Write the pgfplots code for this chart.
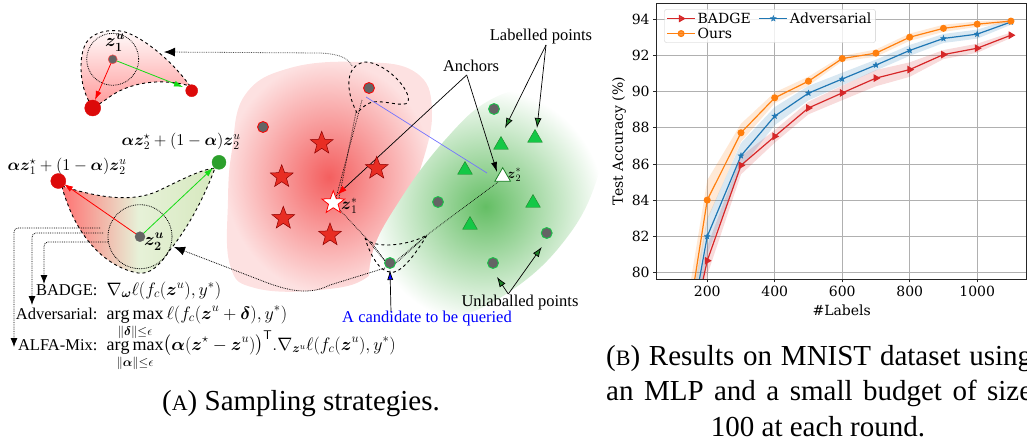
\RequirePackage{fix-cm}
\documentclass[border=0pt]{standalone}
\usepackage{amsmath}
\usepackage{fontspec}
\setmainfont{Liberation Serif}
\newfontfamily\chartfont{DejaVu Serif}
\usepackage{pgfplots}
\pgfplotsset{compat=1.18}
\usepackage{pgfplotstable}
\usetikzlibrary{arrows.meta}

\definecolor{tabred}{RGB}{214,39,40}
\definecolor{tabblue}{RGB}{31,119,180}
\definecolor{taborange}{RGB}{255,127,14}
\definecolor{lgreen}{RGB}{214,232,190}
\definecolor{trigreen}{RGB}{20,200,70}
\definecolor{dotgray}{RGB}{100,100,100}
\definecolor{dgreen}{RGB}{30,130,40}
\definecolor{starred}{RGB}{232,45,35}
\definecolor{dotred}{RGB}{220,10,10}
\definecolor{dotgreen}{RGB}{44,160,44}
\definecolor{arrgreen}{RGB}{20,220,20}
\definecolor{blobred}{RGB}{244,95,95}
\definecolor{blobpink}{RGB}{253,225,225}
\definecolor{blobgreen}{RGB}{100,190,100}

\newcommand\dfont{\fontsize{16.5}{19}\selectfont}
\newcommand\mfont{\fontsize{18}{21}\selectfont}
\newcommand\cfont{\chartfont\fontsize{14}{16}\selectfont}
\newcommand\capfont{\fontsize{29}{35}\selectfont}
\newcommand\capsc[1]{{\fontsize{22}{26}\selectfont #1}}

\pgfdeclareplotmark{fstar}{%
 \pgfpathmoveto{\pgfpointpolar{90}{\pgfplotmarksize}}%
 \pgfpathlineto{\pgfpointpolar{126}{0.42\pgfplotmarksize}}%
 \pgfpathlineto{\pgfpointpolar{162}{\pgfplotmarksize}}%
 \pgfpathlineto{\pgfpointpolar{198}{0.42\pgfplotmarksize}}%
 \pgfpathlineto{\pgfpointpolar{234}{\pgfplotmarksize}}%
 \pgfpathlineto{\pgfpointpolar{270}{0.42\pgfplotmarksize}}%
 \pgfpathlineto{\pgfpointpolar{306}{\pgfplotmarksize}}%
 \pgfpathlineto{\pgfpointpolar{342}{0.42\pgfplotmarksize}}%
 \pgfpathlineto{\pgfpointpolar{18}{\pgfplotmarksize}}%
 \pgfpathlineto{\pgfpointpolar{54}{0.42\pgfplotmarksize}}%
 \pgfpathclose
 \pgfusepathqfillstroke}

\pgfplotstableread{
x y
100 72.2
200 80.66
300 85.93
400 87.53
500 89.10
600 89.93
700 90.75
800 91.22
900 92.05
1000 92.40
1100 93.12
}\badge
\pgfplotstableread{
x y
100 71.8
200 82.0
300 86.46
400 88.65
500 89.92
600 90.70
700 91.47
800 92.28
900 92.94
1000 93.18
1100 93.85
}\adver
\pgfplotstableread{
x y
100 72.2
200 84.01
300 87.73
400 89.66
500 90.58
600 91.83
700 92.13
800 93.01
900 93.50
1000 93.73
1100 93.90
}\ours
% bands: upper edge forward, lower edge backward
\pgfplotstableread{
x y
100 73.7
200 81.46
300 86.43
400 87.88
500 89.45
600 90.33
700 91.20
800 91.62
900 92.30
1000 92.65
1100 93.27
1100 92.97
1000 92.15
900 91.80
800 90.82
700 90.30
600 89.53
500 88.75
400 87.18
300 85.43
200 79.86
100 70.7
}\badgeband
\pgfplotstableread{
x y
100 73.3
200 83.0
300 87.16
400 89.15
500 90.32
600 91.05
700 91.77
800 92.58
900 93.19
1000 93.43
1100 94.00
1100 93.70
1000 92.93
900 92.69
800 91.98
700 91.17
600 90.35
500 89.52
400 88.15
300 85.76
200 81.0
100 70.3
}\adverband
\pgfplotstableread{
x y
100 73.7
200 85.11
300 88.23
400 89.96
500 90.83
600 91.98
700 92.33
800 93.21
900 93.70
1000 93.88
1100 94.00
1100 93.80
1000 93.58
900 93.30
800 92.81
700 91.93
600 91.68
500 90.33
400 89.36
300 87.23
200 82.91
100 70.7
}\oursband

\begin{document}
\begin{tikzpicture}[x=1pt,y=1pt]
\useasboundingbox (0,0) rectangle (1027,-443);
\clip (0,0) rectangle (1027,-443);

% ---------------- diagram (A) ----------------
\begin{axis}[at={(0pt,0pt)},anchor=north west,width=600pt,height=443pt,scale only axis,
  xmin=0,xmax=600,ymin=0,ymax=443,y dir=reverse,axis lines=none,clip=false]

\shade[inner color=blobred, outer color=blobpink] plot[smooth cycle, tension=0.7] coordinates
 {(232,150) (245,95) (290,68) (360,62) (415,72) (432,110) (420,170) (395,230) (370,275) (320,290) (255,288) (230,265) (228,200)};
\shade[inner color=blobgreen, outer color=white] plot[smooth cycle, tension=0.7] coordinates
 {(375,300) (372,255) (400,200) (445,140) (490,100) (540,88) (585,102) (602,135) (595,185) (565,240) (515,288) (455,318) (405,322)};

% top-left shape
\shade[top color=white, bottom color=red!40, draw=black, dashed, line width=0.9pt]
 (92,106) .. controls (80,90) and (78,60) .. (85,45) .. controls (92,30) and (115,28) .. (128,33)
 .. controls (150,42) and (175,65) .. (190,86) .. controls (170,80) and (135,78) .. (108,98)
 .. controls (100,104) and (96,106) .. (92,106) -- cycle;
\draw[densely dotted, line width=0.8pt] (112.7,59.3) circle[radius=26];
\draw[red, line width=0.8pt, -{Latex[length=9pt,width=6pt]}] (112.7,59.3) -- (95,100);
\draw[arrgreen, line width=0.8pt, -{Latex[length=9pt,width=6pt]}] (112.7,59.3) -- (183,87);

% middle-left shape
\shade[left color=red!55, right color=lgreen, middle color=lgreen!60!white, draw=black, dashed, line width=0.9pt]
 (62,186) .. controls (90,195) and (130,205) .. (160,190) .. controls (185,178) and (200,170) .. (215,168)
 .. controls (205,195) and (190,225) .. (170,250) .. controls (160,265) and (150,275) .. (138,273)
 .. controls (110,268) and (85,245) .. (70,210) .. controls (66,200) and (63,192) .. (62,186) -- cycle;
\draw[densely dotted, line width=0.8pt] (140,236.7) circle[radius=32];
\draw[red, line width=0.8pt, -{Latex[length=9pt,width=6pt]}] (140,236.7) -- (64,184);
\draw[arrgreen, line width=0.8pt, -{Latex[length=9pt,width=6pt]}] (140,236.7) -- (213,168);

% dotted arrows to formulas
\draw[densely dotted, line width=0.8pt, rounded corners=4pt, -{Latex[length=9pt,width=7pt]}] (100,228) -- (14,228) -- (14,347);
\draw[densely dotted, line width=0.8pt, rounded corners=4pt, -{Latex[length=9pt,width=7pt]}] (103,233) -- (32,233) -- (32,305);
\draw[densely dotted, line width=0.8pt, rounded corners=4pt, -{Latex[length=9pt,width=7pt]}] (108,242) -- (44,242) -- (44,284);

% top dashed teardrop and connections
\draw[dashed, line width=0.9pt] (357,113) .. controls (345,90) and (345,65) .. (365,62)
 .. controls (385,62) and (412,90) .. (408,102) .. controls (405,108) and (385,100) .. (372,102)
 .. controls (365,104) and (360,110) .. (357,113);
\draw[densely dotted, line width=0.8pt, black!70, -{Latex[length=11pt,width=9pt,black]}] (352,66) .. controls (348,58) and (340,54) .. (320,53) -- (164,52);
\draw[densely dotted, line width=0.7pt] (362,100) -- (336,198);
\draw[densely dotted, line width=0.7pt] (356,112) -- (339,198);
\draw[blue!55, line width=0.7pt] (366,97) -- (487,173);

% candidate shape
\draw[dashed, line width=0.9pt] (365,238) .. controls (375,250) and (410,245) .. (427,235)
 .. controls (415,255) and (400,275) .. (390,272) .. controls (380,272) and (370,255) .. (365,238);
\draw[densely dotted, line width=0.7pt] (338,208) -- (366,238) -- (388,265);
\draw[densely dotted, line width=0.7pt] (498,182) -- (427,235) -- (393,266);
\draw[densely dotted, line width=0.7pt] (371,242) -- (386,262);
\draw[densely dotted, line width=0.7pt] (421,240) -- (395,262);
\draw[densely dotted, line width=0.8pt, -{Latex[length=11pt,width=9pt]}] (385,268) -- (330,285) .. controls (310,295) and (290,292) .. (260,280) -- (174,247);

% annotation arrows
\draw[line width=0.7pt, -{Latex[length=10pt,width=6pt,color=red]}] (466.7,75) -- (337,195);
\draw[line width=0.7pt, -{Latex[length=10pt,width=6pt]}] (466.7,75) -- (497,172);
\draw[line width=0.7pt, -{Latex[length=10pt,width=7pt,fill=dgreen]}] (546,45) -- (505,128);
\draw[line width=0.7pt, -{Latex[length=10pt,width=7pt,fill=dgreen]}] (546,45) -- (537,128);
\draw[line width=0.7pt, -{Latex[length=10pt,width=7pt,fill=dgreen]}] (508.3,294) -- (497,277);
\draw[line width=0.7pt, -{Latex[length=10pt,width=7pt,fill=dgreen]}] (508.3,294) -- (541.7,247);
\draw[line width=0.7pt, -{Latex[length=10pt,width=6pt,fill=blue]}] (391,312) -- (390,270);

% points
\addplot[only marks, mark=fstar, mark size=12, mark options={fill=starred, draw=red!55!black, line width=0.5pt}]
 coordinates {(321.7,143.3) (281.7,176.7) (376.7,168.3) (283.3,218.3) (330,235)};
\addplot[only marks, mark=fstar, mark size=12, mark options={fill=white, draw=red, line width=0.8pt}]
 coordinates {(333.3,202.7)};
\addplot[only marks, mark=triangle*, mark size=8.5, mark options={fill=trigreen, draw=dgreen, line width=0.4pt}]
 coordinates {(501,145) (535,138) (465,170) (470,225) (533,203)};
\addplot[only marks, mark=triangle*, mark size=9, mark options={fill=white, draw=dgreen, line width=0.8pt}]
 coordinates {(502.7,176.7)};
\addplot[only marks, mark=*, mark size=5.5, mark options={fill=dotgray, draw=trigreen, line width=0.8pt}]
 coordinates {(494,109) (438,202) (546.7,233) (493,263) (390,263)};
\addplot[only marks, mark=*, mark size=5.5, mark options={fill=dotgray, draw=red, line width=0.8pt}]
 coordinates {(369,88) (263,127)};
\addplot[only marks, mark=*, mark size=8, mark options={fill=dotred, draw=dotred}] coordinates {(92.7,108)};
\addplot[only marks, mark=*, mark size=6, mark options={fill=dotred, draw=dotred}] coordinates {(191.7,90.7)};
\addplot[only marks, mark=*, mark size=7.5, mark options={fill=dotred, draw=dotred}] coordinates {(58.3,181)};
\addplot[only marks, mark=*, mark size=7, mark options={fill=dotgreen, draw=dotgreen}] coordinates {(219,162.3)};
\addplot[only marks, mark=*, mark size=4.5, mark options={fill=dotgray, draw=red!70, line width=0.5pt}] coordinates {(112.7,59.3)};
\addplot[only marks, mark=*, mark size=5, mark options={fill=dotgray, draw=dotgray}] coordinates {(140,236.7)};

% labels
\node[font=\fontsize{18}{20}\selectfont, inner sep=0pt] at (115,43) {$\boldsymbol{z_1^u}$};
\node[font=\dfont, inner sep=0pt] at (67,166) {$\boldsymbol\alpha\boldsymbol z_1^\star+(1-\boldsymbol\alpha)\boldsymbol z_2^u$};
\node[font=\dfont, inner sep=0pt] at (181,141) {$\boldsymbol\alpha\boldsymbol z_2^\star+(1-\boldsymbol\alpha)\boldsymbol z_2^u$};
\node[font=\fontsize{18}{20}\selectfont, anchor=west, inner sep=0pt] at (144,242) {$\boldsymbol{z_2^u}$};
\node[font=\dfont, anchor=west, inner sep=0pt] at (341,206) {$\boldsymbol z_1^*$};
\node[font=\fontsize{14}{16}\selectfont, anchor=west, inner sep=0pt] at (507,175) {$\boldsymbol z_2^*$};
\node[font=\dfont] at (471,66) {Anchors};
\node[font=\dfont] at (541,37) {Labelled points};
\node[font=\dfont] at (520,303) {Unlaballed points};
\node[font=\dfont, text=blue] at (427,319) {A candidate to be queried};

\node[anchor=base east,font=\dfont] at (101,295) {BADGE:};
\node[anchor=base west,font=\mfont] at (103,295) {$\nabla_{\boldsymbol\omega}\ell(f_c(\boldsymbol z^u),y^*)$};
\node[anchor=base east,font=\dfont] at (101,319) {Adversarial:};
\node[anchor=base west,font=\mfont] at (103,319) {$\displaystyle\operatorname*{arg\,max}_{\|\boldsymbol\delta\|\le\epsilon}\ell(f_c(\boldsymbol z^u+\boldsymbol\delta),y^*)$};
\node[anchor=base east,font=\dfont] at (101,350) {ALFA-Mix:};
\node[anchor=base west,font=\mfont] at (103,350) {$\displaystyle\operatorname*{arg\,max}_{\|\boldsymbol\alpha\|\le\epsilon}\bigl(\boldsymbol\alpha(\boldsymbol z^\star-\boldsymbol z^u)\bigr)^{\mathsf T}.\nabla_{\boldsymbol z^u}\ell(f_c(\boldsymbol z^u),y^*)$};
\end{axis}

% ---------------- chart (B) ----------------
\begin{axis}[at={(656.6pt,-3pt)},anchor=north west,width=370.2pt,height=276pt,scale only axis,
  xmin=50,xmax=1147,ymin=79.65,ymax=94.9,
  xtick={200,400,...,1000},ytick={80,82,...,94},
  grid=major,grid style={color=black!31,line width=0.8pt},
  axis line style={line width=0.8pt,black!85},
  tick align=outside,tick pos=left,major tick length=3.5pt,
  tick style={black!85,line width=0.8pt},
  ticklabel style={font=\cfont},
  /pgf/number format/assume math mode=true,
  /pgf/number format/1000 sep={},
  xlabel={\#Labels},ylabel={Test Accuracy (\%)},
  label style={font=\cfont},
  xlabel style={at={(axis description cs:0.5,-0.112)},anchor=center},
  ylabel style={at={(axis description cs:-0.1016,0.5)},anchor=center},
  legend columns=2,legend cell align=left,
  legend style={at={(0,1)},anchor=north west,xshift=7.7pt,yshift=-6.3pt,font=\cfont,
    draw=black!20,rounded corners=2pt,fill=white,fill opacity=0.8,text opacity=1,
    inner xsep=2pt,inner ysep=1pt,row sep=-1pt,
    /tikz/every even column/.append style={column sep=6pt}},
  legend image code/.code={\draw[mark repeat=2,mark phase=2] plot coordinates {(0pt,0pt) (14pt,0pt) (28pt,0pt)};}
]
\addplot[fill=tabred,fill opacity=0.17,draw=none,forget plot] table[x=x,y=y]{\badgeband};
\addplot[fill=tabblue,fill opacity=0.17,draw=none,forget plot] table[x=x,y=y]{\adverband};
\addplot[fill=taborange,fill opacity=0.17,draw=none,forget plot] table[x=x,y=y]{\oursband};

\addplot[tabred,line width=1.2pt,mark=triangle*,mark size=3.3pt,mark options={rotate=-90,fill=tabred}] table[x=x,y=y]{\badge};
\addlegendentry{BADGE}
\addplot[tabblue,line width=1.2pt,mark=fstar,mark size=3pt,mark options={fill=tabblue,line width=0.4pt}] table[x=x,y=y]{\adver};
\addlegendentry{Adversarial}
\addplot[taborange,line width=1.2pt,mark=*,mark size=2.9pt,mark options={fill=taborange}] table[x=x,y=y]{\ours};
\addlegendentry{Ours}
\end{axis}

% captions
\node[anchor=base,font=\capfont] at (301,-410) {(\capsc{A}) Sampling strategies.};
\node[anchor=base west,font=\capfont,inner sep=0pt] at (606,-365) {\makebox[426pt][s]{(\capsc{B}) Results on MNIST dataset using}};
\node[anchor=base west,font=\capfont,inner sep=0pt] at (606,-400) {\makebox[426pt][s]{an MLP and a small budget of size}};
\node[anchor=base,font=\capfont] at (818,-436.7) {100 at each round.};
\end{tikzpicture}
\end{document}
